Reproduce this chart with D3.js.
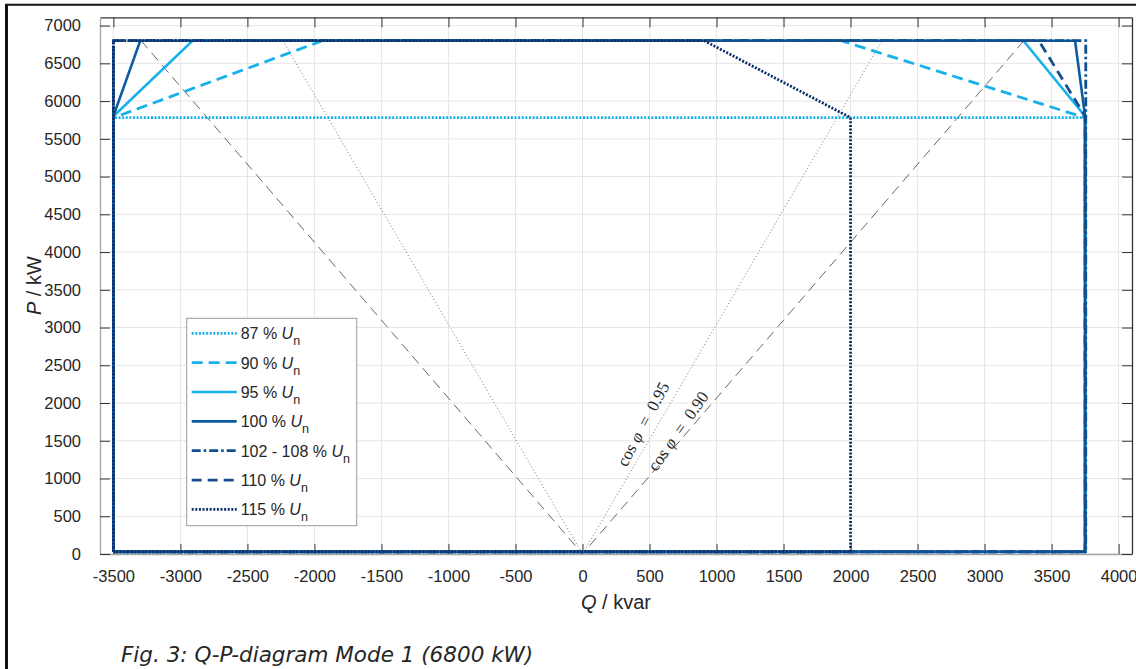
<!DOCTYPE html>
<html lang="en">
<head>
<meta charset="utf-8">
<title>Q-P-diagram Mode 1</title>
<script src="https://d3js.org/d3.v7.min.js" charset="utf-8"></script>
<style>
  body { margin: 0; background: #fff; }
  svg text { font-family: "Liberation Sans", Arial, sans-serif; fill: #262626; }
</style>
</head>
<body>
<div id="chart"></div>
<script>
// series (closed Q-P limit curves, Q in kvar, P in kW)
var seriesLabels = ["87 % ", "90 % ", "95 % ", "100 % ", "102 - 108 % ", "110 % ", "115 % "];

var q87  = [-3500, -3500, 3750, 3750, -3500];
var p87  = [30, 5780, 5780, 30, 30];
var q90  = [-3500, -3500, -1940, 1930, 3750, 3750, -3500];
var p90  = [30, 5780, 6800, 6800, 5780, 30, 30];
var q95  = [-3500, -3500, -2910, 3290, 3750, 3750, -3500];
var p95  = [30, 5800, 6800, 6800, 5800, 30, 30];
var q100 = [-3500, -3500, -3300, 3675, 3750, 3750, -3500];
var p100 = [30, 5800, 6800, 6800, 5800, 30, 30];
var q102 = [-3500, -3500, 3755, 3755, -3500];
var p102 = [30, 6800, 6800, 30, 30];
var q110 = [-3500, -3500, 3405, 3750, 3750, -3500];
var p110 = [30, 6800, 6800, 5800, 30, 30];
var q115 = [-3500, -3500, 908, 2000, 2000, -3500];
var p115 = [30, 6800, 6800, 5780, 30, 30];

// cos phi reference lines
var cosLabels = ["0.95", "0.90"];
var cosValues = [0.95, 0.90];
var cosTopP = 6800;

var xTicks = [-3500, -3000, -2500, -2000, -1500, -1000, -500, 0, 500, 1000, 1500, 2000, 2500, 3000, 3500, 4000];
var yTicks = [0, 500, 1000, 1500, 2000, 2500, 3000, 3500, 4000, 4500, 5000, 5500, 6000, 6500, 7000];

var W = 1136, H = 669;
var plotL = 100, plotR = 1132, plotT = 17.3, plotB = 554;

var svg = d3.select("#chart").append("svg")
    .attr("width", W).attr("height", H);

var x = d3.scaleLinear().domain([-3600, 4100]).range([plotL, plotR]);
var y = d3.scaleLinear().domain([0, 7110]).range([plotB, plotT]);

// grid
svg.append("g").selectAll("line").data(xTicks).enter().append("line")
    .attr("x1", function(d) { return x(d); }).attr("x2", function(d) { return x(d); })
    .attr("y1", plotT).attr("y2", plotB)
    .attr("stroke", "#e6e6e6").attr("stroke-width", 1);
svg.append("g").selectAll("line").data(yTicks).enter().append("line")
    .attr("y1", function(d) { return y(d); }).attr("y2", function(d) { return y(d); })
    .attr("x1", plotL).attr("x2", plotR)
    .attr("stroke", "#e6e6e6").attr("stroke-width", 1);

// axes (MATLAB style, inward ticks, box)
var fmt = function(d) { return String(d); };
var xAxisB = d3.axisBottom(x).tickValues(xTicks).tickSizeInner(-10).tickSizeOuter(0).tickPadding(16).tickFormat(fmt);
var xAxisT = d3.axisTop(x).tickValues(xTicks).tickSizeInner(-10).tickSizeOuter(0).tickFormat("");
var yAxisL = d3.axisLeft(y).tickValues(yTicks).tickSizeInner(-10).tickSizeOuter(0).tickPadding(19).tickFormat(fmt);
var yAxisR = d3.axisRight(y).tickValues(yTicks).tickSizeInner(-10).tickSizeOuter(0).tickFormat("");

function styleAxis(g, lineColor) {
    g.attr("font-family", null);
    g.selectAll(".domain").attr("stroke", lineColor).attr("stroke-width", 1.3);
    g.selectAll(".tick line").attr("stroke", "#333").attr("stroke-width", 1);
    g.selectAll(".tick text").style("font-size", "16.5px").attr("fill", "#262626");
}
svg.append("g").attr("transform", "translate(0," + plotB + ")").call(xAxisB).call(styleAxis, "#a6a6a6");
svg.append("g").attr("transform", "translate(0," + plotT + ")").call(xAxisT).call(styleAxis, "#333");
svg.append("g").attr("transform", "translate(" + plotL + ",0)").call(yAxisL).call(styleAxis, "#a6a6a6");
svg.append("g").attr("transform", "translate(" + plotR + ",0)").call(yAxisR).call(styleAxis, "#333");

// cos phi lines
var cosStyles = [
    { dash: "1,2.4", color: "#666" },
    { dash: "10,6", color: "#555" }
];
var line = d3.line()
    .x(function(d) { return x(d[0]); })
    .y(function(d) { return y(d[1]); });

cosValues.forEach(function(c, i) {
    var t = Math.sqrt(1 - c * c) / c;
    var pts = [[-t * cosTopP, cosTopP], [0, 0], [t * cosTopP, cosTopP]];
    svg.append("path")
        .attr("d", line(pts))
        .attr("fill", "none")
        .attr("stroke", cosStyles[i].color)
        .attr("stroke-width", 0.9)
        .attr("stroke-dasharray", cosStyles[i].dash);
});

// series
var seriesStyle = [
    { q: q87,  p: p87,  color: "#16b1ea", dash: "2,1.6",       width: 2.8 },
    { q: q90,  p: p90,  color: "#16b1ea", dash: "11,6",        width: 2.8 },
    { q: q95,  p: p95,  color: "#16b1ea", dash: null,          width: 2.6 },
    { q: q100, p: p100, color: "#0a5ba3", dash: null,          width: 2.6 },
    { q: q102, p: p102, color: "#0e4f90", dash: "9,3,2.5,3",   width: 2.8 },
    { q: q110, p: p110, color: "#174e8c", dash: "10,6",        width: 2.8 },
    { q: q115, p: p115, color: "#0c2c6a", dash: "2,1.6",       width: 2.8 }
];

seriesStyle.forEach(function(s) {
    var pts = s.q.map(function(q, i) { return [q, s.p[i]]; });
    svg.append("path")
        .attr("d", line(pts))
        .attr("fill", "none")
        .attr("stroke", s.color)
        .attr("stroke-width", s.width)
        .attr("stroke-dasharray", s.dash)
        .attr("stroke-linejoin", "miter");
});

// cos phi labels
var cosPos = [[643, 424, -62], [678, 431, -55]];
cosLabels.forEach(function(lbl, i) {
    var t = svg.append("text")
        .attr("transform", "translate(" + cosPos[i][0] + "," + cosPos[i][1] + ") rotate(" + cosPos[i][2] + ")")
        .attr("text-anchor", "middle")
        .attr("dy", "0.35em")
        .style("font-family", "'Liberation Serif', 'DejaVu Serif', serif")
        .style("font-size", "17px")
        .style("white-space", "pre")
        .attr("fill", "#333");
    t.append("tspan").text("cos ");
    t.append("tspan").style("font-style", "italic").text("\u03C6");
    t.append("tspan").text("  =  " + lbl);
});

// legend
var lg = svg.append("g");
lg.append("rect")
    .attr("x", 186.7).attr("y", 318.3).attr("width", 170).attr("height", 207.4)
    .attr("fill", "#fff").attr("stroke", "#999").attr("stroke-width", 1);
seriesStyle.forEach(function(s, i) {
    var cy = 333.3 + i * 29.35;
    lg.append("line")
        .attr("x1", 191.7).attr("x2", 236.7).attr("y1", cy).attr("y2", cy)
        .attr("stroke", s.color).attr("stroke-width", s.width)
        .attr("stroke-dasharray", s.dash);
    var t = lg.append("text").attr("x", 240.7).attr("y", cy + 6)
        .style("font-size", "16px").attr("fill", "#262626");
    t.append("tspan").text(seriesLabels[i]);
    t.append("tspan").style("font-style", "italic").text("U");
    t.append("tspan").attr("dy", 6).style("font-size", "12.5px").text("n");
});

// axis labels
var xl = svg.append("text").attr("x", (plotL + plotR) / 2).attr("y", 609)
    .attr("text-anchor", "middle").style("font-size", "20px");
xl.append("tspan").style("font-style", "italic").text("Q");
xl.append("tspan").text(" / kvar");

var yl = svg.append("text")
    .attr("transform", "translate(41," + ((plotT + plotB) / 2) + ") rotate(-90)")
    .attr("text-anchor", "middle").style("font-size", "20px");
yl.append("tspan").style("font-style", "italic").text("P");
yl.append("tspan").text(" / kW");

// figure frame + caption
svg.append("line").attr("x1", 5).attr("x2", W).attr("y1", 4.8).attr("y2", 4.8)
    .attr("stroke", "#111").attr("stroke-width", 2);
svg.append("line").attr("x1", 6.5).attr("x2", 6.5).attr("y1", 4).attr("y2", H)
    .attr("stroke", "#111").attr("stroke-width", 3);

svg.append("text").attr("x", 121).attr("y", 662)
    .style("font-family", "'DejaVu Sans', Verdana, sans-serif")
    .style("font-style", "italic").style("font-size", "21.5px").attr("fill", "#2b2b2b")
    .text("Fig. 3: Q-P-diagram Mode 1 (6800 kW)");
</script>
</body>
</html>
